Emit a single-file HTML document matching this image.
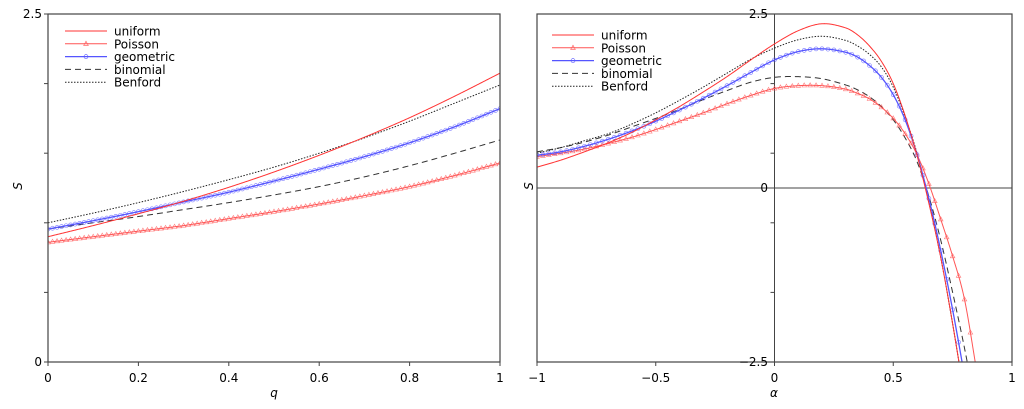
<!DOCTYPE html>
<html><head><meta charset="utf-8"><style>
html,body{margin:0;padding:0;background:#fff;overflow:hidden;width:1024px;height:409px;}
svg{display:block;}
svg text{font-family:"DejaVu Sans","Liberation Sans",sans-serif;font-size:12px;fill:#000;}
</style></head><body>
<svg id="c" width="1024" height="409" viewBox="0 0 1024 409">
<defs>
<clipPath id="clipL"><rect x="48" y="14" width="452" height="348"/></clipPath>
<clipPath id="clipR"><rect x="537" y="14" width="475" height="348"/></clipPath>
</defs>
</svg>
<script>
const qVals=[0,0.1,0.2,0.3,0.4,0.5,0.6,0.7,0.8,0.9,1];
const leftUniform=[0.90,0.98,1.065,1.155,1.255,1.365,1.485,1.615,1.755,1.91,2.075];
const leftPoisson=[0.86,0.90,0.94,0.98,1.03,1.08,1.135,1.195,1.26,1.34,1.43];
const leftGeometric=[0.955,1.015,1.08,1.15,1.22,1.30,1.385,1.475,1.575,1.69,1.82];
const leftBinomial=[0.955,1.00,1.045,1.095,1.145,1.20,1.26,1.33,1.41,1.50,1.595];
const leftBenford=[1.00,1.07,1.145,1.225,1.31,1.40,1.50,1.61,1.73,1.86,1.99];
const aVals=[-1,-0.9,-0.8,-0.7,-0.6,-0.5,-0.4,-0.3,-0.2,-0.1,0,0.1,0.2,0.3,0.35,0.4,0.45,0.5,0.55,0.6,0.65,0.7,0.75,0.8,0.85];
const rightUniform=[0.30,0.40,0.52,0.65,0.80,0.98,1.17,1.38,1.60,1.84,2.07,2.26,2.36,2.30,2.20,2.04,1.82,1.50,1.04,0.47,-0.22,-1.0,-1.95,-3.0,-4.1];
const rightPoisson=[0.45,0.50,0.56,0.64,0.73,0.84,0.96,1.08,1.21,1.33,1.43,1.47,1.47,1.42,1.36,1.28,1.16,1.00,0.78,0.48,0.06,-0.45,-0.98,-1.6,-2.6];
const rightGeometric=[0.47,0.52,0.60,0.70,0.82,0.96,1.12,1.29,1.47,1.66,1.84,1.96,2.00,1.95,1.88,1.76,1.59,1.34,0.98,0.48,-0.15,-0.9,-1.75,-2.7,-3.7];
const rightBinomial=[0.52,0.58,0.66,0.76,0.88,1.00,1.13,1.27,1.40,1.52,1.59,1.60,1.57,1.48,1.41,1.31,1.17,0.98,0.72,0.38,-0.12,-0.75,-1.5,-2.3,-3.2];
const rightBenford=[0.50,0.58,0.68,0.78,0.92,1.08,1.26,1.45,1.65,1.85,2.01,2.13,2.18,2.12,2.04,1.92,1.74,1.45,1.02,0.50,-0.2,-1.0,-1.95,-3.0,-4.1];
const xTicksL=["0","0.2","0.4","0.6","0.8","1"];
const xTickValsL=[0,0.2,0.4,0.6,0.8,1];
const xTicksR=["−1","−0.5","0","0.5","1"];
const xTickValsR=[-1,-0.5,0,0.5,1];

const NS="http://www.w3.org/2000/svg";
const svg=document.getElementById('c');
function mk(tag,attrs,parent){const e=document.createElementNS(NS,tag);for(const k in attrs)e.setAttribute(k,attrs[k]);(parent||svg).appendChild(e);return e;}
const xL=v=>48+v*452, yL=v=>362-v*139.2;
const xR=v=>774.5+v*237.5, yR=v=>188-v*69.6;

function tang(xs,ys,i){
  const n=xs.length;
  if(i===0)return (ys[1]-ys[0])/(xs[1]-xs[0]);
  if(i===n-1)return (ys[n-1]-ys[n-2])/(xs[n-1]-xs[n-2]);
  return (ys[i+1]-ys[i-1])/(xs[i+1]-xs[i-1]);
}
function interp(xs,ys,x){
  for(let i=0;i<xs.length-1;i++){if(x>=xs[i]-1e-12&&x<=xs[i+1]+1e-12){
    const h=xs[i+1]-xs[i],t=(x-xs[i])/h,t2=t*t,t3=t2*t;
    const m0=tang(xs,ys,i)*h,m1=tang(xs,ys,i+1)*h;
    return (2*t3-3*t2+1)*ys[i]+(t3-2*t2+t)*m0+(-2*t3+3*t2)*ys[i+1]+(t3-t2)*m1;
  }}
  return ys[ys.length-1];
}
function drawSeries(g,xs,ys,fx,fy,style,marker,mstep,name){
  const x0=xs[0],x1=xs[xs.length-1];let d="";let started=false;
  for(let k=0;k<=500;k++){const x=x0+(x1-x0)*k/500;const py=fy(interp(xs,ys,x));
    if(py>372){ if(started){d+="L"+fx(x).toFixed(2)+",372";} break;}
    d+=(started?"L":"M")+fx(x).toFixed(2)+","+py.toFixed(2);started=true;}
  const p=mk('path',Object.assign({d:d,fill:'none'},style),g);
  
  
  if(marker){
    for(let x=x0;x<=x1+1e-9;x+=mstep){
      const px=fx(x),py=fy(interp(xs,ys,x));
      if(py<10||py>364)continue;
      let m;
      if(marker==='tri'){m=mk('path',{d:`M${px},${py-2.5}L${px+2.3},${py+1.6}L${px-2.3},${py+1.6}Z`,fill:'none',stroke:style.stroke,'stroke-width':0.6,'stroke-opacity':0.8},g);}
      else{m=mk('circle',{cx:px,cy:py,r:2,fill:'none',stroke:style.stroke,'stroke-width':0.6,'stroke-opacity':0.8},g);}
      
      
    }
  }
}
const sU={stroke:'#ff3333','stroke-width':1};
const sP={stroke:'#ff5555','stroke-width':1};
const sG={stroke:'#5555ff','stroke-width':1.3};
const sB={stroke:'#333','stroke-width':1,'stroke-dasharray':'6,4'};
const sF={stroke:'#222','stroke-width':1,'stroke-dasharray':'1.5,1.5'};

// Left plot
const gL=mk('g',{'clip-path':'url(#clipL)'});


drawSeries(gL,qVals,leftBinomial,xL,yL,sB,null,0,'left-binomial');
drawSeries(gL,qVals,leftBenford,xL,yL,sF,null,0,'left-benford');
drawSeries(gL,qVals,leftPoisson,xL,yL,sP,'tri',0.01,'left-poisson');
drawSeries(gL,qVals,leftGeometric,xL,yL,sG,'circ',0.01,'left-geometric');
drawSeries(gL,qVals,leftUniform,xL,yL,sU,null,0,'left-uniform');
const fL=mk('rect',{x:48,y:14,width:452,height:348,fill:'none',stroke:'#444','stroke-width':1.2});


xTickValsL.forEach((v,i)=>{
  mk('line',{x1:xL(v),x2:xL(v),y1:362,y2:366,stroke:'#444'});
  const t=mk('text',{x:xL(v),y:382,'text-anchor':'middle'});t.textContent=xTicksL[i];
  
  
});
[0,0.5,1,1.5,2,2.5].forEach(v=>mk('line',{x1:44,x2:48,y1:yL(v),y2:yL(v),stroke:'#444'}));
[["0",0],["2.5",2.5]].forEach(a=>{const t=mk('text',{x:42,y:yL(a[1])+4,'text-anchor':'end'});t.textContent=a[0];
  
  });
let t=mk('text',{x:274,y:397,'text-anchor':'middle','font-style':'italic'});t.textContent='q';


t=mk('text',{x:18,y:190,'text-anchor':'middle','font-style':'italic',transform:'rotate(-90 18 186)'});t.textContent='S';



// Right plot
const gR=mk('g',{'clip-path':'url(#clipR)'});


mk('line',{x1:537,x2:1012,y1:188,y2:188,stroke:'#444','stroke-width':1},gR);
mk('line',{x1:774.5,x2:774.5,y1:14,y2:362,stroke:'#444','stroke-width':1},gR);
drawSeries(gR,aVals,rightBinomial,xR,yR,sB,null,0,'right-binomial');
drawSeries(gR,aVals,rightBenford,xR,yR,sF,null,0,'right-benford');
drawSeries(gR,aVals,rightPoisson,xR,yR,sP,'tri',0.025,'right-poisson');
drawSeries(gR,aVals,rightGeometric,xR,yR,sG,'circ',0.025,'right-geometric');
drawSeries(gR,aVals,rightUniform,xR,yR,sU,null,0,'right-uniform');
const fR=mk('rect',{x:537,y:14,width:475,height:348,fill:'none',stroke:'#444','stroke-width':1.2});


xTickValsR.forEach((v,i)=>{
  mk('line',{x1:xR(v),x2:xR(v),y1:362,y2:366,stroke:'#444'});
  const t=mk('text',{x:xR(v),y:382,'text-anchor':'middle'});t.textContent=xTicksR[i];
  
  
});
[-2.5,-1.5,-0.5,0.5,1.5,2.5].forEach(v=>mk('line',{x1:770.5,x2:774.5,y1:yR(v),y2:yR(v),stroke:'#444'}));
[["2.5",2.5],["0",0],["−2.5",-2.5]].forEach(a=>{const t=mk('text',{x:768,y:yR(a[1])+4,'text-anchor':'end'});t.textContent=a[0];
  
  });
t=mk('text',{x:774,y:397,'text-anchor':'middle','font-style':'italic'});t.textContent='α';


t=mk('text',{x:529,y:190,'text-anchor':'middle','font-style':'italic',transform:'rotate(-90 529 186)'});t.textContent='S';



// Legends
const names=['uniform','Poisson','geometric','binomial','Benford'];
const styles=[sU,sP,sG,sB,sF];
const marks=[null,'tri','circ',null,null];
function legend(x0,y0,side){
  const g=mk('g',{});
  
  
  names.forEach((n,i)=>{
    const y=y0+i*12.8;
    const e=mk('g',{},g);
    
    
    mk('line',Object.assign({x1:x0,x2:x0+42,y1:y,y2:y},styles[i]),e);
    if(marks[i]==='tri')mk('path',{d:`M${x0+21},${y-2.5}L${x0+23.3},${y+1.6}L${x0+18.7},${y+1.6}Z`,fill:'none',stroke:styles[i].stroke,'stroke-width':0.6},e);
    if(marks[i]==='circ')mk('circle',{cx:x0+21,cy:y,r:2,fill:'none',stroke:styles[i].stroke,'stroke-width':0.6},e);
    const tt=mk('text',{x:x0+49,y:y+4.5},e);tt.textContent=n;
  });
}
legend(65,31,'left');
legend(552,35,'right');
</script>
</body></html>
